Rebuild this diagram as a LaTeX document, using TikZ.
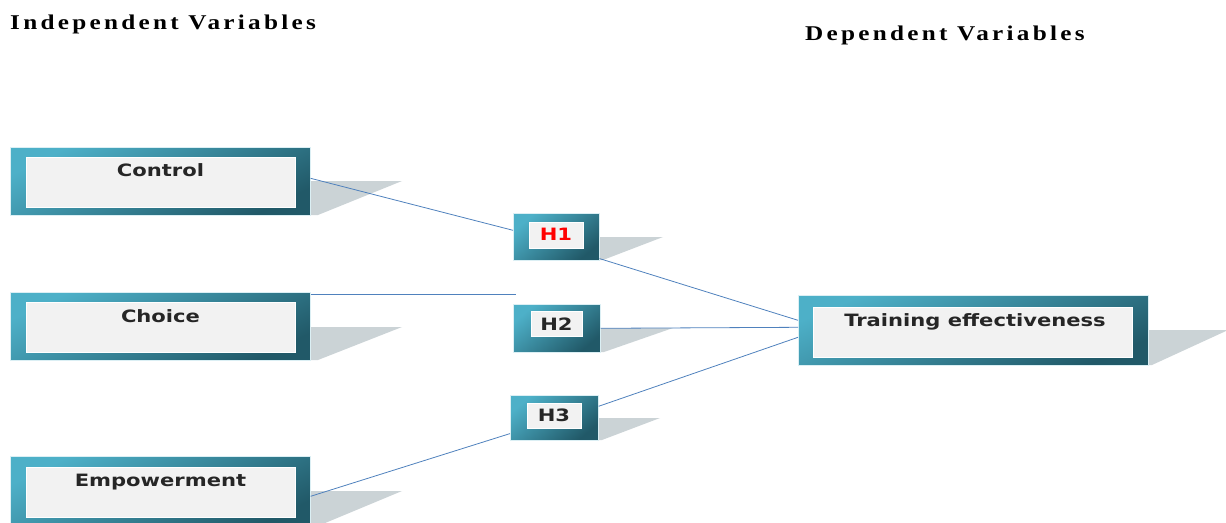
\documentclass[tikz,border=0pt]{standalone}
\usepackage{fontspec}
\setmainfont{Liberation Serif}
\newfontfamily\boxfont{DejaVu Sans}
\newfontfamily\titlefont[LetterSpace=13]{Liberation Serif}
\usetikzlibrary{calc}
\definecolor{framelight}{HTML}{4DB0C8}
\definecolor{framemid}{HTML}{3F9AAF}
\definecolor{framedark}{HTML}{215968}
\definecolor{panel}{HTML}{F2F2F2}
\definecolor{shade}{HTML}{CBD3D6}
\definecolor{linkblue}{HTML}{4F81BD}
\newcommand\stretchtext[1]{\scalebox{1.24}[1]{#1}}
\newcommand\stretchtitle[1]{\scalebox{1.2}[1]{#1}}
\tikzset{
  % the shading angle is tilted per box so the light corner stays top left
  frame/.style={anchor=north west, inner sep=0pt, top color=framelight,
    middle color=framemid, bottom color=framedark, shading angle=#1,
    draw=white!80!framelight, line width=0.6pt},
  frame/.default=26,
  panelbox/.style={anchor=north west, inner sep=0pt, fill=panel,
    draw=white, line width=0.8pt},
  boxtext/.style={font=\boxfont\bfseries\fontsize{17}{20}\selectfont,
    text=black!85, inner sep=0pt, anchor=base},
  titletext/.style={font=\titlefont\bfseries\fontsize{21}{24}\selectfont,
    inner sep=0pt, anchor=base west},
  link/.style={draw=linkblue, line width=0.8pt},
  shadowpoly/.style={fill=shade},
}
\begin{document}
\begin{tikzpicture}[x=1pt,y=-1pt]
\useasboundingbox (0,0) rectangle (1226,522);
\clip (0,0) rectangle (1226,522);

% headings
\node[titletext] (indep) at (10,29) {\stretchtitle{Independent Variables}};
\node[titletext] (dep) at (805,40) {\stretchtitle{Dependent Variables}};

% cast shadows
\fill[shadowpoly] (310,181) -- (402,181) -- (318,215) -- (310,215) -- cycle;
\fill[shadowpoly] (310,327) -- (402,327) -- (318,360) -- (310,360) -- cycle;
\fill[shadowpoly] (310,491) -- (402,491) -- (318,526) -- (310,526) -- cycle;
\fill[shadowpoly] (599,237) -- (663,237) -- (603,260) -- (599,260) -- cycle;
\fill[shadowpoly] (600,328) -- (673,328) -- (604,352) -- (600,352) -- cycle;
\fill[shadowpoly] (598,418) -- (660,418) -- (602,440) -- (598,440) -- cycle;
\fill[shadowpoly] (1148,330) -- (1226,330) -- (1226,331) -- (1152,365) -- (1148,365) -- cycle;

% independent variables
\node[frame, minimum width=300pt, minimum height=68pt] (ctrl) at (10,147) {};
\node[panelbox, minimum width=269pt, minimum height=50pt] (ctrl-p) at (26,157) {};
\node[boxtext] (ctrl-t) at (160.5,176) {\stretchtext{Control}};

\node[frame, minimum width=300pt, minimum height=68pt] (choice) at (10,292) {};
\node[panelbox, minimum width=269pt, minimum height=50pt] (choice-p) at (26,302) {};
\node[boxtext] (choice-t) at (160.5,322) {\stretchtext{Choice}};

\node[frame, minimum width=300pt, minimum height=72pt] (emp) at (10,456) {};
\node[panelbox, minimum width=269pt, minimum height=50pt] (emp-p) at (26,467) {};
\node[boxtext] (emp-t) at (160.5,486) {\stretchtext{Empowerment}};

% hypotheses
\node[frame=40, minimum width=86pt, minimum height=47pt] (h1) at (513,213) {};
\node[panelbox, minimum width=54pt, minimum height=26pt] (h1-p) at (529,222) {};
\node[boxtext, text=red] (h1-t) at (556,240) {\stretchtext{H1}};

\node[frame=40, minimum width=87pt, minimum height=48pt] (h2) at (513,304) {};
\node[panelbox, minimum width=51pt, minimum height=25pt] (h2-p) at (531,311) {};
\node[boxtext] (h2-t) at (556.5,330) {\stretchtext{H2}};

\node[frame=40, minimum width=88pt, minimum height=45pt] (h3) at (510,395) {};
\node[panelbox, minimum width=54pt, minimum height=25pt] (h3-p) at (527,403) {};
\node[boxtext] (h3-t) at (554,421) {\stretchtext{H3}};

% dependent variable
\node[frame=23, minimum width=350pt, minimum height=70pt] (te) at (798,295) {};
\node[panelbox, minimum width=319pt, minimum height=50pt] (te-p) at (813,307) {};
\node[boxtext] (te-t) at (975,326) {\stretchtext{Training effectiveness}};

% connectors
\coordinate (choice-end) at (516,294);
\draw[link] ([yshift=3pt]ctrl.east) -- ([yshift=6.5pt]h1.west);
\draw[link] ([yshift=-2pt]choice.north east) -- (choice-end);
\draw[link] ([yshift=-4pt]emp.east) -- ([yshift=7pt]h3.south west);
\draw[link] ([yshift=2pt]h1.south east) -- ([yshift=10pt]te.west);
\draw[link] (h2.east) -- ([yshift=3pt]te.west);
\draw[link] ([yshift=11.5pt]h3.east) -- ([yshift=-7pt]te.west);
\end{tikzpicture}
\end{document}
